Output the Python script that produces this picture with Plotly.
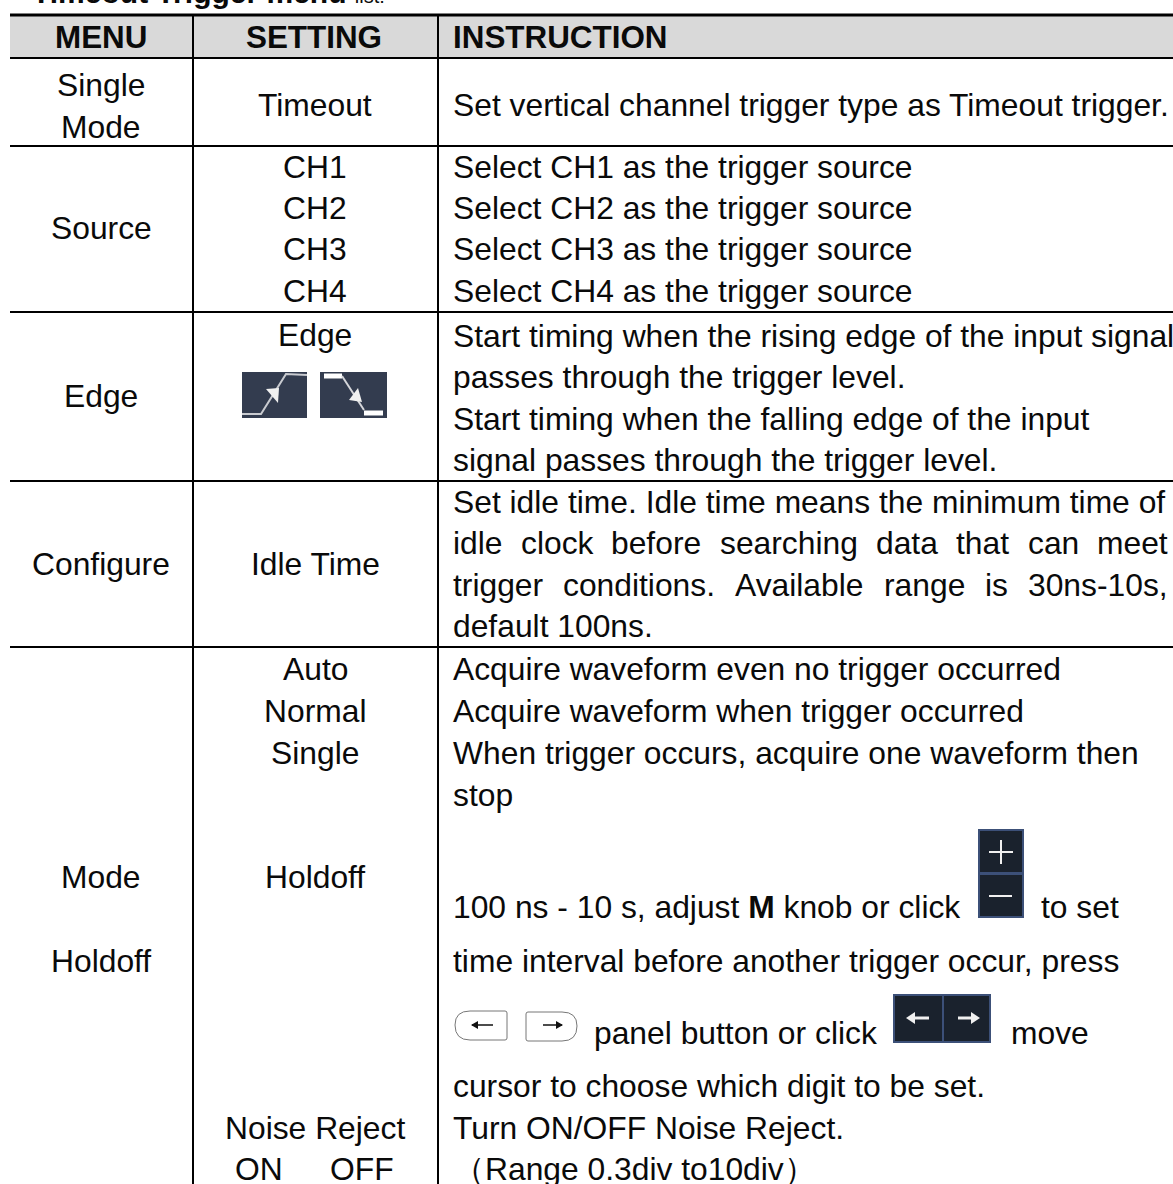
import plotly.graph_objects as go

FONT = "Liberation Sans"
INK = "#0a0a0a"
FS = 31.8

HEADERS = ["MENU", "SETTING", "INSTRUCTION"]
MENU = ["Single", "Mode", "Source", "Edge", "Configure", "Mode", "Holdoff"]
MENU_Y = [85, 127, 228, 396, 564, 877, 961]
SETTING = ["Timeout", "CH1", "CH2", "CH3", "CH4", "Edge", "Idle Time", "Auto", "Normal", "Single", "Holdoff", "Noise Reject"]
SETTING_Y = [105, 167, 208, 249, 291, 335, 564, 669, 711, 753, 877, 1128]
INSTR = [
    "Set vertical channel trigger type as Timeout trigger.",
    "Select CH1 as the trigger source", "Select CH2 as the trigger source",
    "Select CH3 as the trigger source", "Select CH4 as the trigger source",
    "Start timing when the rising edge of the input signal",
    "passes through the trigger level.",
    "Start timing when the falling edge of the input",
    "signal passes through the trigger level.",
    "Set idle time. Idle time means the minimum time of",
    "default 100ns.",
    "Acquire waveform even no trigger occurred",
    "Acquire waveform when trigger occurred",
    "When trigger occurs, acquire one waveform then",
    "stop",
    "100 ns - 10 s, adjust <b>M</b> knob or click",
    "time interval before another trigger occur, press",
    "cursor to choose which digit to be set.",
    "Turn ON/OFF Noise Reject.",
    "（Range 0.3div to10div）",
]
INSTR_Y = [105, 167, 208, 249, 291, 336, 377, 419, 460, 502, 626, 669, 711, 753, 795, 907, 961, 1086, 1128, 1169]
JUST_1 = ["idle", "clock", "before", "searching", "data", "that", "can", "meet"]
JUST_1_X = [452, 520, 610, 719, 875, 955, 1027, 1096]
JUST_2 = ["trigger", "conditions.", "Available", "range", "is", "30ns-10s,"]
JUST_2_X = [452, 562, 734, 883, 984, 1027]
RULE_Y = [15, 58, 146, 312, 481, 647]
COL_X = [193, 438]

fig = go.Figure()
ann = []
def t(x, y, s, anchor="left", size=FS, ya="middle"):
    ann.append(dict(x=x, y=y, text=s, showarrow=False, xanchor=anchor, yanchor=ya,
                    xref="x", yref="y", borderpad=0,
                    font=dict(family=FONT, size=size, color=INK)))

t(31, 10, "<b>Timeout Trigger menu</b> <span style='font-size:20px'>list:</span>", size=30, ya="bottom")
t(54, 37, f"<b>{HEADERS[0]}</b>", size=31.4)
t(245, 37, f"<b>{HEADERS[1]}</b>", size=31.4)
t(452, 37, f"<b>{HEADERS[2]}</b>", size=31.4)
for s, y in zip(MENU, MENU_Y):
    t(101, y, s, "center")
for s, y in zip(SETTING, SETTING_Y):
    t(315, y, s, "center")
t(259, 1169, "ON", "center")
t(362, 1169, "OFF", "center")
for s, y in zip(INSTR, INSTR_Y):
    t(452, y, s)
for w, x in zip(JUST_1, JUST_1_X):
    t(x, 543, w)
for w, x in zip(JUST_2, JUST_2_X):
    t(x, 585, w)
t(1040, 907, "to set")
t(593, 1033, "panel button or click")
t(1010, 1033, "move")

shapes = []
def rect(x0, y0, x1, y1, fill, line=None, lw=0):
    shapes.append(dict(type="rect", x0=x0, y0=y0, x1=x1, y1=y1, fillcolor=fill, xref="x", yref="y",
                       line=dict(color=line or fill, width=lw), layer="above"))
def line(x0, y0, x1, y1, c, w):
    shapes.append(dict(type="line", x0=x0, y0=y0, x1=x1, y1=y1, xref="x", yref="y",
                       line=dict(color=c, width=w), layer="above"))
def path(d, fill=None, c=None, w=0):
    shapes.append(dict(type="path", path=d, xref="x", yref="y", layer="above",
                       fillcolor=fill or "rgba(0,0,0,0)", line=dict(color=c or "rgba(0,0,0,0)", width=w)))

rect(10, 15, 1173, 58, "#d9d9d9")
for i, y in enumerate(RULE_Y):
    line(10, y, 1173, y, "#000000", 3 if i == 0 else 2)
for x in COL_X:
    line(x, 15, x, 1184, "#000000", 2)

# edge icons
rect(242, 372, 307, 418, "#333c4f")
path("M 242 414 L 261 414 L 286 374 L 307 375", c="#c9cbd0", w=2)
path("M 266 389 L 279 388 L 278 403 Z", fill="#f0f0f0")
rect(320, 372, 387, 418, "#333c4f")
line(324, 376, 342, 376, "#ffffff", 5)
line(342, 376, 364, 410, "#d5d6da", 2)
line(364, 413, 383, 413, "#ffffff", 5)
path("M 358 388 L 349 400 L 362 402 Z", fill="#f0f0f0")

# plus / minus
rect(979, 830, 1023, 873, "#1a222d", "#3c5078", 2)
rect(979, 874, 1023, 917, "#1a222d", "#3c5078", 2)
line(989, 852, 1013, 852, "#f0f0f0", 2)
line(1001, 840, 1001, 864, "#f0f0f0", 2)
line(989, 896, 1012, 896, "#f0f0f0", 2)

# arrows
rect(894, 995, 943, 1042, "#1a222d", "#3c5078", 2)
rect(943, 995, 990, 1042, "#1a222d", "#3c5078", 2)
line(912, 1018, 929, 1018, "#f0f0f0", 3)
path("M 906 1018 L 915 1012 L 915 1024 Z", fill="#f0f0f0")
line(958, 1018, 974, 1018, "#f0f0f0", 3)
path("M 980 1018 L 971 1012 L 971 1024 Z", fill="#f0f0f0")

# panel buttons
path("M 505 1011 L 470 1011 Q 455 1011 455 1025 Q 455 1040 470 1040 L 505 1040 Q 507 1040 507 1038 L 507 1013 Q 507 1011 505 1011 Z", c="#777777", w=1)
path("M 528 1012 L 562 1012 Q 577 1012 577 1026 Q 577 1041 562 1041 L 528 1041 Q 526 1041 526 1039 L 526 1014 Q 526 1012 528 1012 Z", c="#777777", w=1)
line(472, 1025, 493, 1025, "#111111", 1.5)
path("M 471 1025 L 478 1021 L 478 1029 Z", fill="#111111")
line(543, 1025, 562, 1025, "#111111", 1.5)
path("M 563 1025 L 556 1021 L 556 1029 Z", fill="#111111")

fig.update_layout(
    width=1173, height=1184, margin=dict(l=0, r=0, t=0, b=0),
    paper_bgcolor="white", plot_bgcolor="white", showlegend=False,
    xaxis=dict(range=[0, 1173], visible=False, fixedrange=True),
    yaxis=dict(range=[1184, 0], visible=False, fixedrange=True),
    annotations=ann, shapes=shapes,
)
fig.write_html("out.html", config=dict(displayModeBar=False),
               post_script="document.body.style.margin='0';document.documentElement.style.overflow='hidden';")
